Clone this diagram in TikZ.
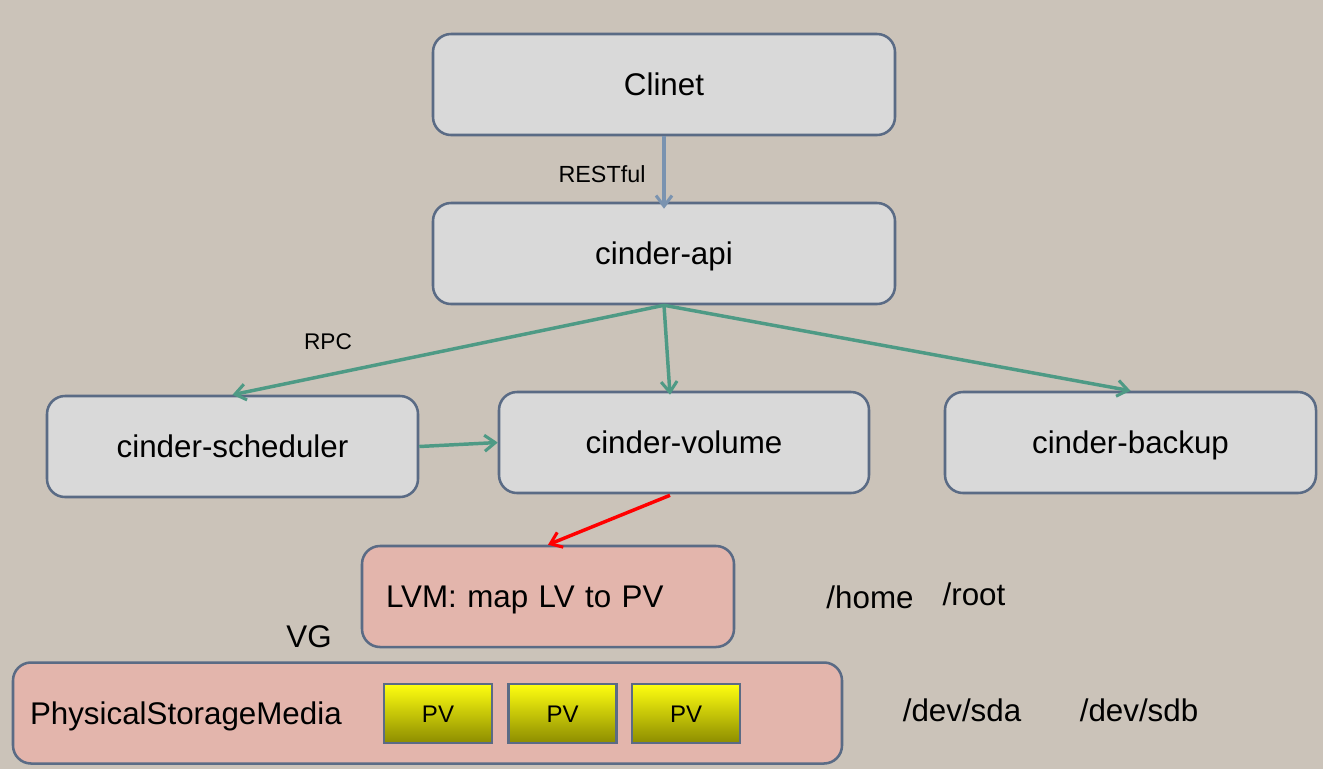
\documentclass[tikz,border=0pt]{standalone}
\usepackage{fontspec}
\setmainfont{Liberation Sans}
\usetikzlibrary{arrows.meta,calc}
\definecolor{bg}{HTML}{CBC3B9}
\definecolor{boxfill}{HTML}{D9D9D9}
\definecolor{boxline}{HTML}{5A6B85}
\definecolor{lvmfill}{HTML}{E3B5AC}
\definecolor{agreen}{HTML}{4E9A85}
\definecolor{ablue}{HTML}{7A93B0}
\definecolor{pvtop}{HTML}{FFFF10}
\definecolor{pvbot}{HTML}{8C8C00}
\tikzset{
  big/.style={font=\fontsize{23.5}{28}\selectfont},
  gbox/.style={draw=boxline, line width=1.9pt, fill=boxfill, rounded corners=13.5pt,
    inner sep=0pt, big, text height=16.8pt, text depth=0pt,
    minimum width=#1*0.75pt, minimum height=101*0.75pt},
  pbox/.style={draw=boxline, line width=1.9pt, fill=lvmfill, rounded corners=13.5pt,
    big, text height=16.8pt, text depth=0pt, minimum height=101*0.75pt, align=left},
  pvbox/.style={draw=boxline, line width=1.9pt, top color=pvtop, bottom color=pvbot,
    inner sep=0pt, minimum width=108*0.75pt, minimum height=59*0.75pt,
    text height=12.9pt, text depth=0pt,
    font=\fontsize{18}{21}\selectfont},
  conn/.style={line width=2.6pt, -{Straight Barb[length=8pt,width=12pt,line width=2.3pt]}},
  lbl/.style={inner sep=0pt},
}
\begin{document}
\begin{tikzpicture}[x=0.75pt,y=-0.75pt]
\fill[bg] (0,0) rectangle (1323,769);
\useasboundingbox (0,0) rectangle (1323,769);

\node[gbox=462] (cl) at (664,84.5) {Clinet};
\node[gbox=462] (api) at (664,253.5) {cinder-api};
\node[gbox=371] (sch) at (232.5,446.5) {cinder-scheduler};
\node[gbox=370] (vol) at (684,442.5) {cinder-volume};
\node[gbox=371] (bak) at (1130.5,442.5) {cinder-backup};

\node[pbox, inner xsep=24*0.75pt, inner ysep=0pt, text width=324*0.75pt] (lvm) at (548,596.5) {LVM: map LV to PV};
\node[pbox, inner xsep=17*0.75pt, inner ysep=0pt, text width=795*0.75pt] (psm) at (427.5,713) {PhysicalStorageMedia};

\node[pvbox] (pv1) at (438,713.5) {PV};
\node[pvbox] (pv2) at (562.5,713.5) {PV};
\node[pvbox] (pv3) at (686,713.5) {PV};

\node[lbl, font=\fontsize{17.5}{20}\selectfont] (rest) at (602,174) {RESTful};
\node[lbl, font=\fontsize{17}{20}\selectfont] (rpc) at (328,342) {RPC};
\node[lbl, big] (vg) at (309,637) {VG};
\node[lbl, big] (home) at (870,597) {/home};
\node[lbl, big] (root) at (974,594) {/root};
\node[lbl, big] (sda) at (962,710) {/dev/sda};
\node[lbl, big] (sdb) at (1139,710) {/dev/sdb};

\draw[conn, ablue] (cl.south) -- ($(api.north)+(0,7)$);
\draw[conn, agreen] (api.south) -- (sch.north);
\draw[conn, agreen] (api.south) -- ($(vol.north)+(-14,4)$);
\draw[conn, agreen] (api.south) -- (bak.north);
\draw[conn, agreen] (sch.east) -- (vol.west);
\draw[conn, red] ($(vol.south)+(-14,1)$) -- (lvm.north);
\end{tikzpicture}
\end{document}
